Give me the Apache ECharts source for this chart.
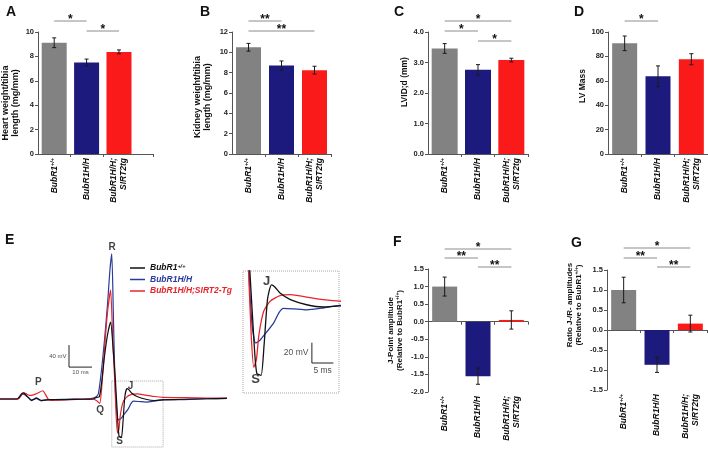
<!DOCTYPE html>
<html>
<head>
<meta charset="utf-8">
<title>BubR1 cardiac phenotypes</title>
<script src="https://cdn.jsdelivr.net/npm/echarts@6/dist/echarts.min.js"></script>
<style>
    html, body { margin: 0; padding: 0; background: #fff; }
    #chart { width: 708px; height: 459px; }
</style>
</head>
<body>
<div id="chart"></div>
<script>
    var FONT = '"Liberation Sans", Arial, sans-serif';

    var groups = ['BubR1+/+', 'BubR1H/H', 'BubR1H/H;\nSIRT2tg'];
    var barColors = ['#828282', '#1c1a7c', '#fb1a1a'];

    // A-D
    var heartMean = [9.12, 7.5, 8.37];
    var heartErr = [0.4, 0.28, 0.16];
    var kidneyMean = [10.5, 8.7, 8.25];
    var kidneyErr = [0.38, 0.45, 0.38];
    var lvidMean = [3.46, 2.76, 3.08];
    var lvidErr = [0.16, 0.17, 0.06];
    var lvMassMean = [90.7, 63.7, 77.7];
    var lvMassErr = [6, 8.5, 4.5];
    // F-G, relative to BubR1+/+
    var jPointMean = [1.0, -1.55, 0.05];
    var jPointErr = [0.27, 0.23, 0.26];
    var jrRatioMean = [1.0, -0.87, 0.16];
    var jrRatioErr = [0.32, 0.19, 0.21];

    // significance: [from group, to group, stars]
    var heartSig = [[0, 1, '*'], [1, 2, '*']];
    var kidneySig = [[0, 1, '**'], [0, 2, '**']];
    var lvidSig = [[0, 2, '*'], [0, 1, '*'], [1, 2, '*']];
    var lvMassSig = [[0, 1, '*']];
    var jPointSig = [[0, 2, '*'], [0, 1, '**'], [1, 2, '**']];
    var jrRatioSig = [[0, 2, '*'], [0, 1, '**'], [1, 2, '**']];

    // E: averaged ECG traces, [ms, mV]
    var ecgNames = ['BubR1+/+', 'BubR1H/H', 'BubR1H/H;SIRT2-Tg'];
    var ecgColors = ['#111111', '#2a3a9c', '#e8242b'];
    var ecgWT = [[0,0],[7.5,0],[8.5,4],[9.5,10],[10.3,11],[11.3,7],[12.5,2],[13.7,-2],[14.8,0],[15.8,2],[16.8,0],[18,-2.5],[19.5,-2],[22,-1],[28,-1],[36,-0.5],[40.5,0],[42,3],[43.2,4],[44.2,30],[45.5,80],[46.8,118],[48.1,140],[49.2,90],[50.2,32],[51.2,-40],[51.8,-68],[52.8,-70],[53.5,-40],[54.3,5],[55.2,19],[56,17],[57.2,11],[59.6,4.5],[63.4,-0.5],[67.2,-2.7],[71,-1.7],[80,-0.5],[90,0.5],[98.7,1]];
    var ecgHH = [[0,0],[7.5,0],[8.5,4],[9.5,8],[10.3,9],[11.3,6],[12.5,2],[13.7,-3],[14.8,-1],[15.8,1],[16.8,-1],[18,-3.5],[19.5,-2],[22,-1],[28,-0.5],[36,0],[40,1],[41.8,4],[42.8,10],[44.2,55],[45.5,110],[46.8,175],[47.8,235],[48.6,264],[49.3,150],[50,32],[50.7,-20],[51.5,-38],[52.4,-36],[53.4,-31],[55.7,-18.5],[57,-8],[58,-4],[60.3,-4.5],[63.4,-5.5],[67.2,-3.7],[71,-1.2],[80,-1],[90,0.5],[98.7,1]];
    var ecgSirt = [[0,0],[8,0],[9,5],[10.4,11],[11.6,9],[12.8,6.5],[14.5,7.5],[16.5,11],[18.6,15],[19.8,8],[21,-0.5],[22.5,-2.5],[24.6,-2],[30,-1],[38,-0.5],[40.5,0],[42.3,-4],[43.4,-8],[44.2,20],[45.5,95],[46.8,160],[48.1,198],[49,110],[49.9,32],[50.5,-30],[51.1,-62],[51.7,-55],[52.3,-30],[53.4,-7],[54.9,3],[57.2,8.5],[59.6,9.4],[63.4,7],[67.2,4.5],[71,3],[80,2.5],[90,1.8],[98.7,1.5]];
    var zoomT = [48.6, 70.9];
    var zoomV = [-87.3, 32.7];
    var mainNotes = [['P', 16.7, 30], ['Q', 43.5, -20], ['R', 48.7, 276], ['S', 52, -77], ['J', 56.7, 22.7]];
    var insetNotes = [['J', 54.1, 22.9], ['S', 51.5, -73.6]];
    var mainScale = {t: 30, v: 58, dt: 10, dv: 40};
    var insetScale = {t: 64.6, v: -57.8, dt: 5, dv: 20};

    var panels = [
        {letter: 'A', mean: heartMean, err: heartErr, sig: heartSig, sigY: [-11, -1],
            min: 0, max: 10, step: 2, dec: 0, xMax: 3.55, barW: 25,
            title: 'Heart weight/tibia\nlength (mg/mm)', nameSize: 9, nameGap: 17, nameShift: 10,
            box: {left: 34, top: 32, width: 119, height: 122}, letterPos: [1, 0]},
        {letter: 'B', mean: kidneyMean, err: kidneyErr, sig: kidneySig, sigY: [-11, -1],
            min: 0, max: 12, step: 2, dec: 0, xMax: 3, barW: 25,
            title: 'Kidney weight/tibia\nlength (mg/mm)', nameSize: 9, nameGap: 19, nameShift: 4,
            box: {left: 232, top: 32, width: 99, height: 122}, letterPos: [195, 0]},
        {letter: 'C', mean: lvidMean, err: lvidErr, sig: lvidSig, sigY: [-11, -1, 9],
            min: 0, max: 4, step: 1, dec: 1, xMax: 3, barW: 26,
            title: 'LVID;d (mm)', nameSize: 8.5, nameGap: 17, nameShift: -11,
            box: {left: 428, top: 32, width: 100, height: 122}, letterPos: [389, 0]},
        {letter: 'D', mean: lvMassMean, err: lvMassErr, sig: lvMassSig, sigY: [-11],
            min: 0, max: 100, step: 20, dec: 0, xMax: 3, barW: 25,
            title: 'LV Mass', nameSize: 8.5, nameGap: 18, nameShift: -7,
            box: {left: 608, top: 32, width: 100, height: 122}, letterPos: [569, 0]},
        {letter: 'F', mean: jPointMean, err: jPointErr, sig: jPointSig, sigY: [-20, -11, -2],
            min: -2, max: 1.5, step: 0.5, dec: 1, xMax: 3, barW: 25,
            title: 'J-Point amplitude\n(Relative to BubR1{s|+/+})', nameSize: 8, nameGap: 24, nameShift: 0,
            box: {left: 428, top: 269, width: 100, height: 123}, letterPos: [388, 230]},
        {letter: 'G', mean: jrRatioMean, err: jrRatioErr, sig: jrRatioSig, sigY: [-22, -12, -3],
            min: -1.5, max: 1.5, step: 0.5, dec: 1, xMax: 3, barW: 25,
            title: 'Ratio J-/R- amplitudes\n(Relative to BubR1{s|+/+})', nameSize: 8, nameGap: 24, nameShift: -25,
            box: {left: 607, top: 270, width: 100, height: 120}, letterPos: [566, 231]}
    ];

    function richGroup(s) {
        return s.split('\n').map(function (l) {
            return l.indexOf('+/+') >= 0 ? '{n|' + l.replace('+/+', '') + '}{s|+/+}' : '{n|' + l + '}';
        }).join('\n');
    }

    var labelRich = {
        n: {fontFamily: FONT, fontSize: 8.5, fontWeight: 'bold', fontStyle: 'italic', color: '#111', lineHeight: 10},
        s: {fontFamily: FONT, fontSize: 5.5, fontWeight: 'bold', fontStyle: 'italic', color: '#111', lineHeight: 6, verticalAlign: 'top'}
    };

    function errorItem(params, api) {
        var x = api.value(0);
        var lo = api.coord([x, api.value(1)]);
        var hi = api.coord([x, api.value(2)]);
        var st = {stroke: '#1a1a1a', lineWidth: 1};
        return {type: 'group', children: [
            {type: 'line', shape: {x1: lo[0], y1: lo[1], x2: hi[0], y2: hi[1]}, style: st},
            {type: 'line', shape: {x1: lo[0] - 2, y1: lo[1], x2: lo[0] + 2, y2: lo[1]}, style: st},
            {type: 'line', shape: {x1: hi[0] - 2, y1: hi[1], x2: hi[0] + 2, y2: hi[1]}, style: st}
        ]};
    }

    function sigRenderer(p) {
        return function (params, api) {
            var s = p.sig[params.dataIndex];
            var y = api.coord([0, p.max])[1] + p.sigY[params.dataIndex];
            var x1 = api.coord([api.value(0), p.max])[0];
            var x2 = api.coord([api.value(1), p.max])[0];
            return {type: 'group', children: [
                {type: 'line', shape: {x1: x1, y1: y, x2: x2, y2: y}, style: {stroke: '#8c8c8c', lineWidth: 1}},
                {type: 'text', x: (x1 + x2) / 2, y: y - 1,
                    style: {text: s[2], fill: '#111', font: 'bold 12px ' + FONT, align: 'center', verticalAlign: 'middle'}}
            ]};
        };
    }

    var titles = [], grids = [], xAxes = [], yAxes = [], series = [];

    panels.forEach(function (p, i) {
        titles.push({text: p.letter, left: p.letterPos[0], top: p.letterPos[1],
            textStyle: {fontFamily: FONT, fontSize: 14, fontWeight: 'bold', color: '#111'}});
        grids.push(p.box);
        var pad = p.nameShift >= 0 ? [0, 2 * p.nameShift, 0, 0] : [0, 0, 0, -2 * p.nameShift];
        xAxes.push({
            gridIndex: i, type: 'value', min: 0, max: p.xMax, position: 'bottom',
            axisLine: {onZero: true, lineStyle: {color: '#555', width: 1}},
            axisTick: {show: true, length: 3, customValues: [1, 2, p.xMax], lineStyle: {color: '#555'}},
            axisLabel: {show: false}, splitLine: {show: false}
        });
        xAxes.push({
            gridIndex: i, type: 'value', min: 0, max: p.xMax, position: 'bottom',
            axisLine: {show: false, onZero: false}, axisTick: {show: false}, splitLine: {show: false},
            axisLabel: {
                customValues: [0.5, 1.5, 2.5], rotate: 90, margin: 4,
                formatter: function (v) { return richGroup(groups[Math.floor(v)]); },
                rich: labelRich
            }
        });
        yAxes.push({
            gridIndex: i, type: 'value', min: p.min, max: p.max, interval: p.step,
            name: p.title, nameLocation: 'middle', nameGap: p.nameGap,
            nameTextStyle: {fontFamily: FONT, fontSize: p.nameSize, fontWeight: 'bold', color: '#111',
                lineHeight: p.nameSize + 1, padding: pad,
                rich: {s: {fontFamily: FONT, fontSize: 5, fontWeight: 'bold', color: '#111', verticalAlign: 'top', lineHeight: 5}}},
            axisLine: {show: true, lineStyle: {color: '#555', width: 1}},
            axisTick: {show: true, length: 3, lineStyle: {color: '#555'}},
            axisLabel: {fontFamily: FONT, fontSize: 7.5, fontWeight: 'bold', color: '#222', margin: 4,
                formatter: function (v) { return v.toFixed(p.dec); }},
            splitLine: {show: false}
        });
        series.push({
            type: 'bar', xAxisIndex: 2 * i, yAxisIndex: i, barWidth: p.barW, silent: true,
            data: p.mean.map(function (m, k) {
                return {value: [k + 0.5, m], itemStyle: {color: barColors[k]}};
            })
        });
        series.push({
            type: 'custom', xAxisIndex: 2 * i, yAxisIndex: i, silent: true, z: 5,
            renderItem: errorItem,
            data: p.mean.map(function (m, k) { return [k + 0.5, m - p.err[k], m + p.err[k]]; })
        });
        series.push({
            type: 'custom', xAxisIndex: 2 * i, yAxisIndex: i, silent: true, clip: false, z: 5,
            renderItem: sigRenderer(p),
            data: p.sig.map(function (s) { return [s[0] + 0.5, s[1] + 0.5]; })
        });
    });

    // E: ECG, main trace (grid 6) and zoomed window (grid 7)
    titles.push({text: 'E', left: 0, top: 228, textStyle: {fontFamily: FONT, fontSize: 14, fontWeight: 'bold', color: '#111'}});
    grids.push({left: 0, top: 234, width: 230, height: 214.5});
    grids.push({left: 243, top: 271, width: 96, height: 122});
    xAxes.push({gridIndex: 6, type: 'value', min: 0, max: 100, show: false});
    xAxes.push({gridIndex: 7, type: 'value', min: zoomT[0], max: zoomT[1], show: false});
    yAxes.push({gridIndex: 6, type: 'value', min: -90, max: 300, show: false});
    yAxes.push({gridIndex: 7, type: 'value', min: zoomV[0], max: zoomV[1], show: false});

    var boxStyle = {color: 'rgba(0,0,0,0)', borderColor: '#a8a8a8', borderWidth: 1, borderType: 'dotted'};
    var zoomBox = [[{coord: [zoomT[0], zoomV[1]]}, {coord: [zoomT[1], zoomV[0]]}]];

    var ecgSets = [ecgWT, ecgHH, ecgSirt];
    var zOrder = [6, 4, 5];
    [1, 2, 0].forEach(function (k) {
        [[12, 6, 1.2], [13, 7, 1.3]].forEach(function (ax) {
            var s = {
                type: 'line', name: ecgNames[k], xAxisIndex: ax[0], yAxisIndex: ax[1],
                data: ecgSets[k], symbol: 'none', smooth: 0.2, silent: true, z: zOrder[k],
                lineStyle: {color: ecgColors[k], width: ax[2]}, itemStyle: {color: ecgColors[k]}
            };
            if (k === 0) {
                s.markArea = {silent: true, itemStyle: boxStyle, label: {show: false}, data: zoomBox};
            }
            series.push(s);
        });
    });

    function scaleSeries(sc, xi, yi, size, dist) {
        series.push({
            type: 'line', xAxisIndex: xi, yAxisIndex: yi, symbol: 'none', silent: true, z: 7,
            lineStyle: {color: '#222', width: 1},
            data: [[sc.t, sc.v + sc.dv], [sc.t, sc.v], [sc.t + sc.dt, sc.v]]
        });
        var lbl = {show: true, formatter: '{b}', fontFamily: FONT, fontSize: size, color: '#222'};
        series.push({
            type: 'scatter', xAxisIndex: xi, yAxisIndex: yi, symbolSize: 1, silent: true, z: 7,
            itemStyle: {color: 'rgba(0,0,0,0)'},
            data: [
                {name: sc.dv + ' mV', value: [sc.t, sc.v + sc.dv / 2], label: Object.assign({position: 'left', distance: dist}, lbl)},
                {name: sc.dt + ' ms', value: [sc.t + sc.dt / 2, sc.v], label: Object.assign({position: 'bottom', distance: dist}, lbl)}
            ]
        });
    }
    scaleSeries(mainScale, 12, 6, 6, 2);
    scaleSeries(insetScale, 13, 7, 8.5, 3);

    function noteSeries(notes, xi, yi, size) {
        series.push({
            type: 'scatter', xAxisIndex: xi, yAxisIndex: yi, symbolSize: 1, silent: true, z: 8,
            itemStyle: {color: 'rgba(0,0,0,0)'},
            label: {show: true, position: 'inside', formatter: '{b}', fontFamily: FONT, fontSize: size, fontWeight: 'bold', color: '#111'},
            data: notes.map(function (n) { return {name: n[0], value: [n[1], n[2]]}; })
        });
    }
    noteSeries(mainNotes, 12, 6, 10);
    noteSeries(insetNotes, 13, 7, 13);

    var chart = echarts.init(document.getElementById('chart'), null, {renderer: 'canvas'});
    chart.setOption({
        animation: false,
        textStyle: {fontFamily: FONT},
        title: titles,
        legend: {
            left: 125, top: 258, orient: 'vertical', itemWidth: 15, itemHeight: 1.5, itemGap: 1.5,
            icon: 'rect', selectedMode: false,
            data: ecgNames.map(function (n, i) {
                return {name: n, itemStyle: {color: ecgColors[i]}, textStyle: {color: ecgColors[i]}};
            }),
            formatter: function (n) { return n.indexOf('+/+') >= 0 ? n.replace('+/+', '') + '{s|+/+}' : n; },
            textStyle: {fontFamily: FONT, fontSize: 8.5, fontWeight: 'bold', fontStyle: 'italic', lineHeight: 10,
                rich: {s: {fontFamily: FONT, fontSize: 5.5, fontWeight: 'bold', fontStyle: 'italic', color: '#111', verticalAlign: 'top', lineHeight: 6}}}
        },
        grid: grids,
        xAxis: xAxes,
        yAxis: yAxes,
        series: series
    });
</script>
</body>
</html>
